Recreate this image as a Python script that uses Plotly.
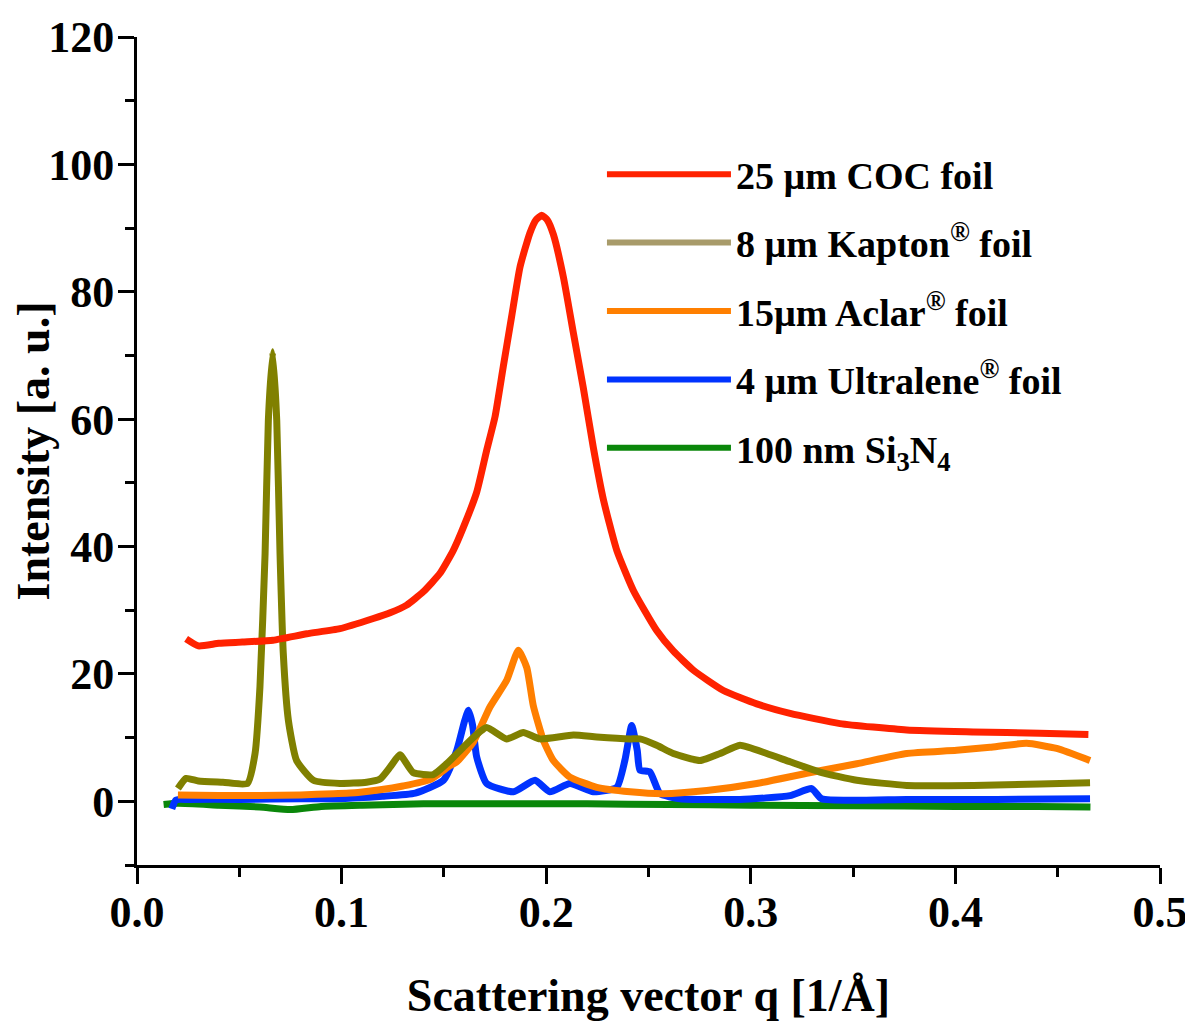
import plotly.graph_objects as go

# ---------------- data ----------------
coc_q = [0.024, 0.030, 0.040, 0.0515, 0.0665, 0.083, 0.0992, 0.1155, 0.1237, 0.1318, 0.1399,
         0.1481, 0.1546, 0.1595, 0.166, 0.1709, 0.175, 0.179, 0.1831, 0.1872, 0.192,
         0.195, 0.1978, 0.2005, 0.2035, 0.2084, 0.2133, 0.2181, 0.223, 0.228, 0.2345, 0.2426,
         0.254, 0.2621, 0.2719, 0.2866, 0.3029, 0.3192, 0.3436, 0.3762, 0.4088, 0.4413, 0.465]
coc_i = [25.5, 24.4, 24.8, 25.0, 25.3, 26.3, 27.1, 28.7, 29.6, 30.8, 32.9,
         35.8, 39.4, 43.0, 48.5, 55.1, 60.4, 68.2, 76.1, 83.9, 89.2,
         91.3, 92.0, 91.3, 89.0, 82.3, 73.5, 65.0, 55.6, 47.3, 39.4, 33.1,
         26.8, 23.6, 20.6, 17.4, 15.3, 13.8, 12.2, 11.2, 10.9, 10.7, 10.5]

kapton_q = [0.020, 0.024, 0.030, 0.042, 0.054, 0.0577, 0.0601, 0.0626, 0.0642, 0.0663, 0.0683,
            0.0699, 0.0715, 0.074, 0.078, 0.0862, 0.0992, 0.1122, 0.1188, 0.1240, 0.1285, 0.135,
            0.1448, 0.1514, 0.1595, 0.166, 0.1709, 0.1807, 0.1888, 0.197, 0.2133, 0.2247, 0.241,
            0.2458, 0.254, 0.2621, 0.2752, 0.2850, 0.2947, 0.3078, 0.3192, 0.3338, 0.3518, 0.3762,
            0.4088, 0.4413, 0.4658]
kapton_i = [2.0, 3.6, 3.2, 3.0, 2.8, 7.5, 18.0, 38.9, 59.8, 70.6, 59.8,
            38.9, 23.2, 12.7, 6.4, 3.3, 2.8, 3.0, 3.5, 5.5, 7.3, 4.5,
            4.2, 5.9, 8.5, 10.5, 11.6, 9.8, 10.8, 9.8, 10.4, 10.1, 9.8,
            9.8, 8.8, 7.5, 6.4, 7.5, 8.8, 7.5, 6.2, 4.6, 3.3, 2.5,
            2.5, 2.7, 2.9]

aclar_q = [0.020, 0.040, 0.060, 0.080, 0.096, 0.1080, 0.1188, 0.1300, 0.1432, 0.153, 0.1563,
           0.1644, 0.1725, 0.1807, 0.1864, 0.1905, 0.1937, 0.1986, 0.2035, 0.2116, 0.2247,
           0.241, 0.2572, 0.2785, 0.3029, 0.3273, 0.3518, 0.3762, 0.4006, 0.4169, 0.4348,
           0.4495, 0.4658]
aclar_i = [1.0, 0.9, 0.9, 1.0, 1.2, 1.4, 1.8, 2.4, 3.4, 5.6, 6.2,
           9.3, 14.8, 19.0, 23.7, 21.0, 15.0, 9.6, 6.4, 3.8, 2.2,
           1.5, 1.2, 1.7, 2.8, 4.4, 5.9, 7.5, 8.0, 8.5, 9.1,
           8.3, 6.4]

ultralene_q = [0.017, 0.019, 0.025, 0.050, 0.080, 0.096, 0.120, 0.136, 0.1498, 0.1563, 0.1600,
               0.162, 0.1640, 0.166, 0.1709, 0.184, 0.1945, 0.2018, 0.2116, 0.223, 0.2345,
               0.2385, 0.2418, 0.2445, 0.2458, 0.2507, 0.2556, 0.2654, 0.2947, 0.3192, 0.3297,
               0.3346, 0.3762, 0.4200, 0.4658]
ultralene_i = [-1.2, 0.2, 0.3, 0.3, 0.4, 0.4, 0.8, 1.3, 3.3, 8.0, 12.5,
               14.3, 12.0, 7.0, 2.8, 1.5, 3.3, 1.5, 2.8, 1.5, 2.2,
               6.5, 11.9, 8.0, 4.9, 4.6, 1.2, 0.4, 0.3, 0.9, 2.0,
               0.4, 0.3, 0.3, 0.4]

sin_q = [0.013, 0.020, 0.040, 0.060, 0.075, 0.090, 0.110, 0.140, 0.180, 0.220, 0.260,
         0.300, 0.350, 0.400, 0.440, 0.466]
sin_i = [-0.5, -0.3, -0.6, -0.9, -1.3, -0.8, -0.6, -0.4, -0.4, -0.4, -0.5,
         -0.6, -0.7, -0.8, -0.8, -0.9]

series_names = ["25 µm COC foil", "8 µm Kapton<sup>®</sup> foil", "15µm Aclar<sup>®</sup> foil",
                "4 µm Ultralene<sup>®</sup> foil", "100 nm Si<sub>3</sub>N<sub>4</sub>"]
line_colors = ["#ff2200", "#808000", "#ff7f00", "#0033ff", "#0a870a"]
legend_colors = ["#ff2200", "#a89b6a", "#ff7f00", "#0033ff", "#0a870a"]

x_ticks = [0.0, 0.1, 0.2, 0.3, 0.4, 0.5]
y_ticks = [0, 20, 40, 60, 80, 100, 120]

FONT = "Liberation Serif, Times New Roman, serif"

fig = go.Figure()
data = [(coc_q, coc_i), (kapton_q, kapton_i), (aclar_q, aclar_i),
        (ultralene_q, ultralene_i), (sin_q, sin_i)]
# draw order: green at bottom, red on top
order = [4, 3, 2, 1, 0]
for k in order:
    qx, iy = data[k]
    fig.add_trace(go.Scatter(x=qx, y=iy, mode="lines", showlegend=False,
                             line=dict(color=line_colors[k], width=7, shape="spline",
                                       smoothing=0.5),
                             name=series_names[k]))
for k in range(5):
    fig.add_trace(go.Scatter(x=[None], y=[None], mode="lines", name=series_names[k],
                             legendgroup=f"g{k}",
                             line=dict(color=legend_colors[k], width=6)))

axis_common = dict(showline=True, linecolor="black", linewidth=3, ticks="outside",
                   ticklen=16, tickwidth=3, tickcolor="black", showgrid=False,
                   zeroline=False, mirror=False, automargin=False,
                   tickfont=dict(family=FONT, size=44, color="black", weight="bold"))

fig.update_xaxes(range=[0, 0.5], tickvals=x_ticks, tickformat=".1f",
                 ticklabelstandoff=-10,
                 minor=dict(ticks="outside", ticklen=9, tickwidth=3, tickcolor="black",
                            dtick=0.05, tick0=0, showgrid=False),
                 title=dict(text="Scattering vector q [1/Å]", standoff=49,
                            font=dict(family=FONT, size=46, color="black", weight="bold")),
                 **axis_common)
fig.update_yaxes(range=[-10, 120], tickvals=y_ticks,
                 ticklabelstandoff=-5,
                 minor=dict(ticks="outside", ticklen=9, tickwidth=3, tickcolor="black",
                            dtick=10, tick0=0, showgrid=False),
                 title=dict(text="Intensity [a. u.]", standoff=2,
                            font=dict(family=FONT, size=46, color="black", weight="bold")),
                 **axis_common)

# the page body adds an 8px offset; the figure is sized to fill the rest of the window
fig.update_layout(
    width=1185, height=1013,
    margin=dict(l=129, r=33, t=29, b=156),
    paper_bgcolor="white", plot_bgcolor="white",
    font=dict(family=FONT, color="black"),
    legend=dict(x=0.4545, y=0.872, xanchor="left", yanchor="top",
                bgcolor="rgba(0,0,0,0)", borderwidth=0, itemwidth=124,
                tracegroupgap=16,
                font=dict(family=FONT, size=38, color="black", weight="bold")),
)

fig.write_html("out.html")
